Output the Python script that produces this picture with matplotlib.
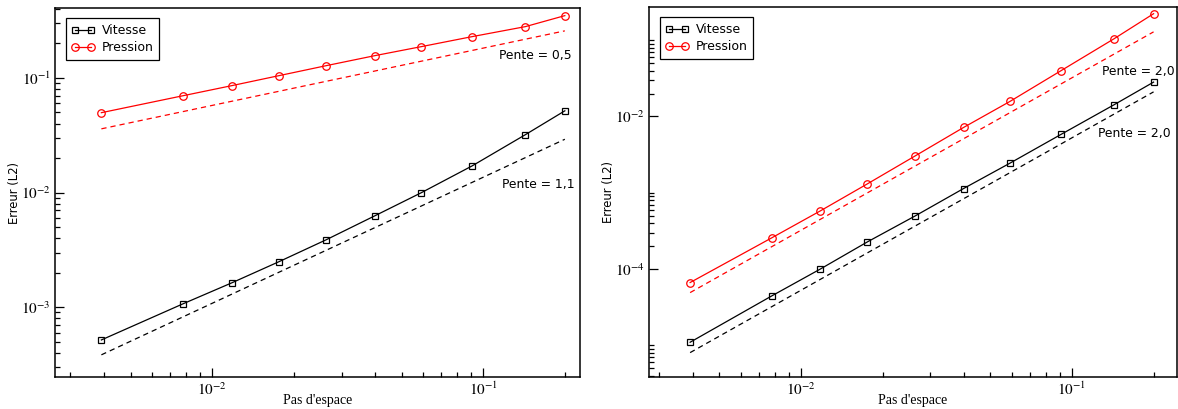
import matplotlib

matplotlib.use("Agg")
import matplotlib.pyplot as plt
import numpy as np
from matplotlib.ticker import FixedLocator, FuncFormatter, LogLocator, NullFormatter

plt.rcParams["mathtext.fontset"] = "stix"

# mesh sizes (pas d'espace), shared by both panels
pas = [0.0039, 0.0078, 0.0118, 0.0176, 0.0263, 0.0398, 0.059, 0.091, 0.143, 0.200]

# left panel errors
vitesse_g = [5.18e-4, 1.07e-3, 1.63e-3, 2.49e-3, 3.87e-3, 6.27e-3, 9.96e-3, 1.71e-2, 3.20e-2, 5.17e-2]
pression_g = [0.0498, 0.0700, 0.0857, 0.1047, 0.128, 0.1566, 0.1876, 0.2296, 0.2806, 0.350]

# right panel errors
vitesse_d = [1.094e-5, 4.43e-5, 1.00e-4, 2.27e-4, 4.93e-4, 1.135e-3, 2.44e-3, 5.81e-3, 1.426e-2, 2.825e-2]
pression_d = [6.64e-5, 2.56e-4, 5.79e-4, 1.31e-3, 3.02e-3, 7.18e-3, 1.574e-2, 3.98e-2, 0.1047, 0.2229]

# reference slopes (dashed lines): value at the first mesh size, slope
ref_g = {"vitesse": (3.84e-4, 1.1), "pression": (0.036, 0.5)}
ref_d = {"vitesse": (8.0e-6, 2.0), "pression": (4.9e-5, 2.0)}
pente_labels_g = ["Pente = 0,5", "Pente = 1,1"]
pente_labels_d = ["Pente = 2,0", "Pente = 2,0"]

W, H = 1178, 409


def px_axes(left, top, right, bottom):
    return [left / W, (H - bottom) / H, (right - left) / W, (bottom - top) / H]


def ref_line(anchor, slope):
    h = np.array([pas[0], pas[-1]])
    return h, anchor * (h / pas[0]) ** slope


pow10 = FuncFormatter(lambda v, _: r"$10^{%d}$" % round(np.log10(v)))


def draw_panel(ax, vit, pre, refs, xlim, ylim):
    ax.plot(pas, vit, color="black", lw=0.9, marker="s", ms=4.6, mfc="none", mec="black", mew=0.9, label="Vitesse")
    ax.plot(pas, pre, color="red", lw=0.9, marker="o", ms=5.4, mfc="none", mec="red", mew=0.9, label="Pression")
    for key, color in (("vitesse", "black"), ("pression", "red")):
        h, r = ref_line(*refs[key])
        ax.plot(h, r, color=color, lw=0.9, ls=(0, (4.2, 3.2)))
    ax.set_xscale("log")
    ax.set_yscale("log")
    ax.set_xlim(*xlim)
    ax.set_ylim(*ylim)
    ax.xaxis.set_major_locator(FixedLocator([1e-3, 1e-2, 1e-1, 1.0]))
    ax.xaxis.set_minor_locator(LogLocator(base=10, subs=np.arange(2, 10), numticks=20))
    ax.xaxis.set_major_formatter(pow10)
    ax.xaxis.set_minor_formatter(NullFormatter())
    for s in ax.spines.values():
        s.set_linewidth(1.1)
    ax.tick_params(which="both", direction="in", top=False, right=False, width=0.9, labelsize=11, pad=3)
    ax.tick_params(which="major", length=6.8)
    ax.tick_params(which="minor", length=3.6)
    ax.set_xlabel("Pas d'espace", family="Liberation Serif", fontsize=10, labelpad=-3)
    ax.set_ylabel("Erreur (L2)", family="DejaVu Sans", fontsize=8.4, labelpad=0)
    leg = ax.legend(loc="upper left", bbox_to_anchor=(0.02, 0.972), borderaxespad=0, numpoints=2,
                    fancybox=False, framealpha=1, edgecolor="black", prop={"family": "DejaVu Sans", "size": 9},
                    handlelength=1.85, handletextpad=0.6, labelspacing=0.35, borderpad=0.45)
    leg.get_frame().set_linewidth(0.9)


fig = plt.figure(figsize=(W / 100, H / 100), dpi=100)

ax1 = fig.add_axes(px_axes(55, 8, 580, 377))
draw_panel(ax1, vitesse_g, pression_g, ref_g, (0.00263, 0.2275), (2.46e-4, 0.408))
ax1.yaxis.set_major_locator(FixedLocator([1e-4, 1e-3, 1e-2, 1e-1, 1.0]))
ax1.yaxis.set_minor_locator(LogLocator(base=10, subs=np.arange(2, 10), numticks=20))
ax1.yaxis.set_major_formatter(pow10)
ax1.yaxis.set_minor_formatter(NullFormatter())
ax1.text(0.984, 0.871, pente_labels_g[0], transform=ax1.transAxes, ha="right", va="center", fontsize=8.9)
ax1.text(0.990, 0.523, pente_labels_g[1], transform=ax1.transAxes, ha="right", va="center", fontsize=8.9)

ax2 = fig.add_axes(px_axes(649, 7, 1176.5, 377))
draw_panel(ax2, vitesse_d, pression_d, ref_d, (0.00275, 0.243), (3.83e-6, 0.273))
ax2.yaxis.set_major_locator(FixedLocator([1e-6, 1e-4, 1e-2, 1.0]))
ax2.yaxis.set_minor_locator(FixedLocator([k * 10.0 ** e for e in (-6, -4, -2) for k in range(2, 11)]))
ax2.yaxis.set_major_formatter(pow10)
ax2.yaxis.set_minor_formatter(NullFormatter())
ax2.text(0.997, 0.827, pente_labels_d[0], transform=ax2.transAxes, ha="right", va="center", fontsize=8.9)
ax2.text(0.988, 0.659, pente_labels_d[1], transform=ax2.transAxes, ha="right", va="center", fontsize=8.9)

fig.savefig("out.png", dpi=100)
